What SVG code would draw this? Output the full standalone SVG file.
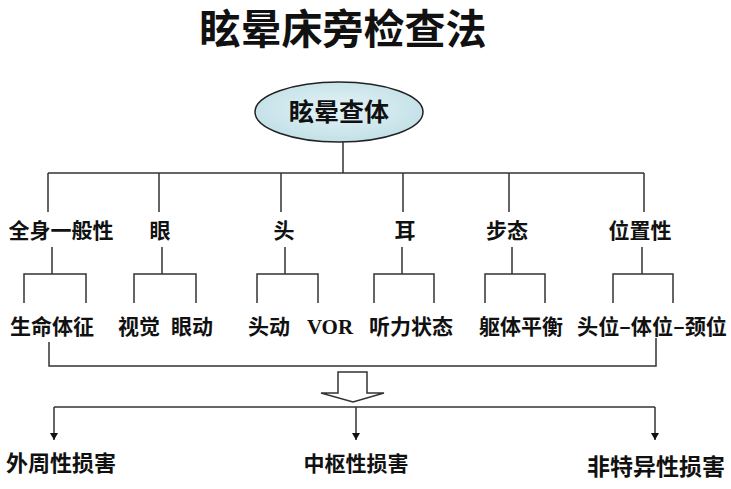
<svg xmlns="http://www.w3.org/2000/svg" width="731" height="489" viewBox="0 0 731 489">
<defs>
<radialGradient id="eg" cx="50%" cy="45%" r="60%">
<stop offset="0" stop-color="#e4f3f6"/>
<stop offset="1" stop-color="#bfdfe6"/>
</radialGradient>
<marker id="ah" markerWidth="8" markerHeight="8" refX="7" refY="4" orient="auto" markerUnits="userSpaceOnUse">
<path d="M0,0 L7,4 L0,8 Z" fill="#111"/>
</marker>
</defs>
<style>
.t{font-family:"Noto Sans CJK SC","Noto Sans",sans-serif;font-weight:bold;fill:#111;text-anchor:middle}
.l{fill:none;stroke:#333;stroke-width:1.5}
</style>
<rect width="731" height="489" fill="#fff"/>
<g id="title"><text class="t" x="343" y="44" font-size="41">眩晕床旁检查法</text></g>
<g id="root">
<ellipse cx="339" cy="112" rx="84" ry="30" fill="url(#eg)" stroke="#222" stroke-width="1.5"/>
<text class="t" x="339" y="121" font-size="25">眩晕查体</text>
</g>
<g id="connectors" class="l">
<path d="M343,142 V173 M48,173 H644 M48,173 V212 M159,173 V212 M281,173 V212 M403,173 V212 M509,173 V212 M644,173 V212"/>
<path d="M52,247 V274 M24,303 V274 H86 V303"/>
<path d="M162,247 V274 M134,303 V274 H196 V303"/>
<path d="M285,247 V274 M257,303 V274 H318 V303"/>
<path d="M402,247 V274 M374,303 V274 H434 V303"/>
<path d="M512,247 V274 M485,303 V274 H545 V303"/>
<path d="M642,247 V274 M613,303 V274 H673 V303"/>
<path d="M49,342 V366 H656 V338"/>
<path d="M338,372 H367 V393 H384 L353,402 L321,393 H338 Z" fill="#fff"/>
<path d="M54,407 H655"/>
<path d="M54,407 V440" marker-end="url(#ah)"/>
<path d="M356,407 V440" marker-end="url(#ah)"/>
<path d="M655,407 V440" marker-end="url(#ah)"/>
</g>
<g id="n-quanshen"><text class="t" x="61" y="238" font-size="21">全身一般性</text></g>
<g id="n-yan"><text class="t" x="160" y="238" font-size="21">眼</text></g>
<g id="n-tou"><text class="t" x="284" y="238" font-size="21">头</text></g>
<g id="n-er"><text class="t" x="405" y="238" font-size="21">耳</text></g>
<g id="n-butai"><text class="t" x="507" y="238" font-size="21">步态</text></g>
<g id="n-weizhi"><text class="t" x="640" y="238" font-size="21">位置性</text></g>
<g id="n-shengming"><text class="t" x="52" y="334" font-size="21">生命体征</text></g>
<g id="n-shijue"><text class="t" x="139" y="334" font-size="21">视觉</text></g>
<g id="n-yandong"><text class="t" x="192" y="334" font-size="21">眼动</text></g>
<g id="n-toudong"><text class="t" x="269" y="334" font-size="21">头动</text></g>
<g id="n-vor"><text class="t" x="330" y="334" font-size="21" style="font-family:'Liberation Serif',serif">VOR</text></g>
<g id="n-tingli"><text class="t" x="411" y="334" font-size="21">听力状态</text></g>
<g id="n-quti"><text class="t" x="521" y="334" font-size="21">躯体平衡</text></g>
<g id="n-touwei"><text class="t" x="652" y="334" font-size="21" textLength="150" lengthAdjust="spacingAndGlyphs">头位–体位–颈位</text></g>
<g id="n-waizhou"><text class="t" x="61" y="471" font-size="22">外周性损害</text></g>
<g id="n-zhongshu"><text class="t" x="356" y="471" font-size="21">中枢性损害</text></g>
<g id="n-feite"><text class="t" x="656" y="475" font-size="23">非特异性损害</text></g>
</svg>
